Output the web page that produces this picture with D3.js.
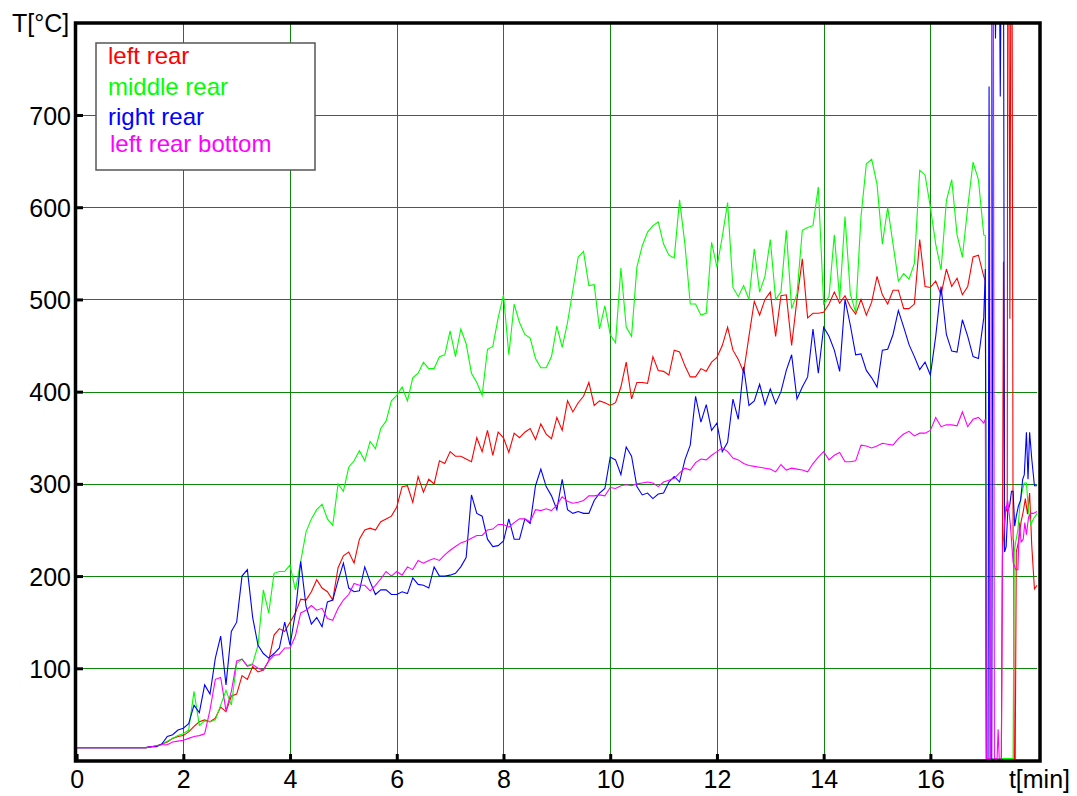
<!DOCTYPE html>
<html>
<head>
<meta charset="utf-8">
<script src="https://cdn.jsdelivr.net/npm/d3@7"></script>
<style>
  body { margin: 0; background: #fff; }
  text { font-family: "Liberation Sans", Arial, Helvetica, sans-serif; }
</style>
</head>
<body>
<svg id="chart" width="1077" height="796"></svg>
<script>
// ---------------- DATA ----------------
// sample times (minutes) 0.0 .. 17.0, every 0.1 min
const minutes = d3.range(0, 171).map(i => i / 10);

const leftRear = [
  14,14,14,14,14,14,14,14,14,14,
  14,14,14,14,15,16,18,20,24,26,
  27,31,37,42,44,42,46,58,53,70,
  72,92,88,102,96,98,108,136,143,140,
  150,160,175,174,183,196,187,183,174,209,
  222,226,214,240,250,252,250,259,262,265,
  275,297,298,280,308,291,305,300,325,322,
  335,330,330,327,324,350,335,358,331,356,
  350,334,355,350,356,360,348,365,354,349,
  372,358,390,378,388,395,410,385,390,388,
  385,388,405,432,392,410,410,409,438,423,
  422,418,445,443,428,416,416,425,422,432,
  437,450,470,445,435,421,460,498,483,500,
  508,460,504,505,450,500,544,480,485,485,
  486,495,508,496,504,492,484,500,483,497,
  525,505,495,510,510,490,490,495,565,514,
  513,520,505,533,514,523,505,514,546,548,
  525
];
const middleRear = [
  14,14,14,14,14,14,14,14,14,14,
  14,14,14,14,15,16,18,21,24,27,
  29,33,75,38,43,42,44,60,76,60,
  105,110,103,105,125,185,160,203,205,205,
  212,185,216,248,262,272,278,262,255,300,
  292,318,325,336,325,346,338,360,368,390,
  396,405,390,415,420,432,425,425,438,440,
  466,438,468,452,420,410,396,446,449,480,
  505,440,495,475,462,458,436,426,426,438,
  471,448,475,510,546,552,515,516,468,493,
  462,453,534,470,460,535,558,573,580,584,
  560,548,545,608,560,495,495,483,485,562,
  535,568,605,513,503,515,500,555,508,525,
  565,500,508,575,490,506,575,578,580,622,
  495,503,570,500,590,506,486,590,647,652,
  625,560,600,560,520,528,522,539,640,635,
  600,560,532,607,630,570,546,600,649,630,
  570
];
const rightRear = [
  14,14,14,14,14,14,14,14,14,14,
  14,14,14,14,15,15,18,26,28,33,
  35,40,60,52,82,72,111,135,82,140,
  150,200,207,155,125,116,111,116,122,150,
  125,160,216,167,148,155,145,172,174,195,
  214,187,183,184,210,194,180,185,185,180,
  180,183,181,198,191,190,187,210,200,200,
  201,203,210,220,288,268,265,240,232,233,
  238,262,240,240,262,257,298,316,297,287,
  272,305,272,268,270,268,268,282,290,295,
  329,326,310,340,330,297,288,290,284,289,
  290,302,308,302,326,342,395,367,386,358,
  366,335,345,392,370,427,385,390,408,386,
  403,387,400,423,440,392,405,416,468,420,
  470,460,445,422,500,472,440,441,423,415,
  405,445,446,462,488,470,451,438,424,432,
  418,460,514,462,444,443,478,460,438,436,
  480
];
const leftRearBottom = [
  14,14,14,14,14,14,14,14,14,14,
  14,14,14,14,15,16,17,17,20,21,
  22,24,26,27,29,55,88,90,54,75,
  108,110,102,104,100,98,108,114,115,122,
  122,135,160,163,168,163,165,154,152,165,
  174,180,192,190,190,184,190,197,205,200,
  205,201,210,207,217,214,217,219,217,223,
  228,232,236,238,241,244,244,250,251,256,
  256,253,258,262,262,259,272,271,273,271,
  277,286,281,279,280,282,287,287,288,287,
  296,295,298,299,298,300,301,302,301,297,
  302,304,306,312,317,315,323,327,326,331,
  335,339,335,328,326,322,320,319,318,317,
  316,313,321,315,317,316,315,313,322,329,
  335,326,331,334,324,324,325,342,341,339,
  341,344,343,342,349,354,357,352,355,355,
  358,372,362,364,364,363,378,362,370,372,
  366
];

// final minute: sensors fail, readings jump off scale ([minute, value])
const leftRearEnd = [
  [17.03,520],[17.05,2],[17.33,2],[17.35,226],[17.37,541],[17.39,255],[17.42,276],
  [17.44,270],[17.45,900],[17.47,900],[17.49,479],[17.51,900],[17.53,900],[17.55,240],
  [17.56,237],[17.57,2],[17.59,2],[17.61,226],[17.65,237],[17.70,259],[17.74,270],
  [17.78,284],[17.82,267],[17.86,290],[17.90,233],[17.95,186],[18.0,190]
];
const middleRearEnd = [
  [17.03,569],[17.05,2],[17.55,2],[17.57,226],[17.60,237],[17.64,250],[17.68,279],
  [17.72,292],[17.76,301],[17.80,301],[17.84,270],[17.88,256],[17.93,262],[18.0,268]
];
const rightRearEnd = [
  [17.03,533],[17.05,2],[17.08,2],[17.10,731],[17.12,2],[17.15,2],[17.18,900],
  [17.20,900],[17.22,783],[17.25,900],[17.29,900],[17.31,720],[17.33,900],[17.37,900],
  [17.39,226],[17.42,232],[17.45,270],[17.49,278],[17.52,292],[17.55,292],[17.58,254],
  [17.61,265],[17.65,276],[17.69,282],[17.73,305],[17.76,310],[17.80,356],[17.83,305],
  [17.86,356],[17.90,327],[17.95,298],[18.0,298]
];
const leftRearBottomEnd = [
  [17.03,370],[17.05,2],[17.13,2],[17.15,900],[17.18,900],[17.20,2],[17.25,2],
  [17.27,34],[17.29,2],[17.33,2],[17.35,222],[17.40,268],[17.45,282],[17.50,255],
  [17.55,215],[17.60,207],[17.64,207],[17.67,258],[17.70,237],[17.74,240],[17.77,258],
  [17.80,245],[17.84,264],[17.88,268],[17.93,268],[18.0,270]
];

const seriesNames  = ["left rear", "middle rear", "right rear", "left rear bottom"];
const seriesColors = ["#ff0000", "#00ff00", "#0000ff", "#ff00ff"];
const seriesValues = [leftRear, middleRear, rightRear, leftRearBottom];
const seriesEnds   = [leftRearEnd, middleRearEnd, rightRearEnd, leftRearBottomEnd];

const xTicks = [0, 2, 4, 6, 8, 10, 12, 14, 16];
const yTicks = [100, 200, 300, 400, 500, 600, 700];

// ---------------- CHART ----------------
const svg = d3.select("#chart");
const frame = { left: 76, right: 1040, top: 23, bottom: 761 };

const x = d3.scaleLinear().domain([0, 18]).range([76.6, 1037.1]);
const y = d3.scaleLinear().domain([0, 800]).range([760.5, 22.8]);

svg.append("rect").attr("width", 1077).attr("height", 796).attr("fill", "#fff");

svg.append("defs").append("clipPath").attr("id", "clip")
  .append("rect")
  .attr("x", frame.left).attr("y", frame.top)
  .attr("width", frame.right - frame.left).attr("height", frame.bottom - frame.top);

// grid
const grid = svg.append("g").attr("stroke", "#0b860b").attr("stroke-width", 1);
grid.selectAll("line.v").data(xTicks.filter(d => d > 0)).join("line")
  .attr("x1", d => Math.round(x(d)) + 0.5).attr("x2", d => Math.round(x(d)) + 0.5)
  .attr("y1", frame.top).attr("y2", frame.bottom);
grid.selectAll("line.h").data(yTicks).join("line")
  .attr("x1", frame.left).attr("x2", x(18))
  .attr("y1", d => Math.round(y(d)) + 0.5).attr("y2", d => Math.round(y(d)) + 0.5);

// series
const line = d3.line().x(d => x(d[0])).y(d => y(d[1]));
const plotG = svg.append("g").attr("clip-path", "url(#clip)");
seriesValues.forEach((vals, i) => {
  const pts = minutes.map((t, k) => [t, vals[k]]).concat(seriesEnds[i]);
  plotG.append("path")
    .datum(pts)
    .attr("d", line)
    .attr("fill", "none")
    .attr("stroke", seriesColors[i])
    .attr("stroke-width", 1.1)
    .attr("stroke-linejoin", "miter");
});

// legend
const leg = svg.append("g");
leg.append("rect")
  .attr("x", 96).attr("y", 43).attr("width", 219).attr("height", 127)
  .attr("fill", "#fff").attr("stroke", "#555").attr("stroke-width", 1.5);
const legBase = [64, 95, 125, 152];
const legX = [108, 108, 108, 110];
seriesNames.forEach((n, i) => {
  leg.append("text")
    .attr("x", legX[i]).attr("y", legBase[i])
    .attr("fill", seriesColors[i])
    .attr("font-size", 24)
    .text(n);
});

// axes (ticks inside)
const xAxis = d3.axisBottom(x).tickValues(xTicks).tickSizeInner(-7).tickSizeOuter(0).tickPadding(9)
  .tickFormat(d3.format("d"));
const gx = svg.append("g").attr("transform", `translate(0,${frame.bottom})`).call(xAxis);
gx.select(".domain").remove();
gx.selectAll(".tick line").attr("stroke", "#000").attr("stroke-width", 3);
gx.selectAll(".tick text").attr("font-size", 25).attr("fill", "#000")
  .attr("font-family", '"Liberation Sans", Arial, sans-serif');

const yAxis = d3.axisLeft(y).tickValues(yTicks).tickSizeInner(-7).tickSizeOuter(0).tickPadding(5)
  .tickFormat(d3.format("d"));
const gy = svg.append("g").attr("transform", `translate(${frame.left},0)`).call(yAxis);
gy.select(".domain").remove();
gy.selectAll(".tick line").attr("stroke", "#000").attr("stroke-width", 3);
gy.selectAll(".tick text").attr("font-size", 25).attr("fill", "#000").attr("dy", "0.36em")
  .attr("font-family", '"Liberation Sans", Arial, sans-serif');

// frame
svg.append("rect")
  .attr("x", frame.left - 0.5).attr("y", frame.top)
  .attr("width", frame.right - frame.left + 0.5).attr("height", frame.bottom - frame.top)
  .attr("fill", "none").attr("stroke", "#000").attr("stroke-width", 3.5);

// axis titles
svg.append("text").attr("x", 12).attr("y", 32).attr("font-size", 25).attr("fill", "#000").text("T[°C]");
svg.append("text").attr("x", 1070).attr("y", 788).attr("text-anchor", "end")
  .attr("font-size", 25).attr("fill", "#000").text("t[min]");
</script>
</body>
</html>
